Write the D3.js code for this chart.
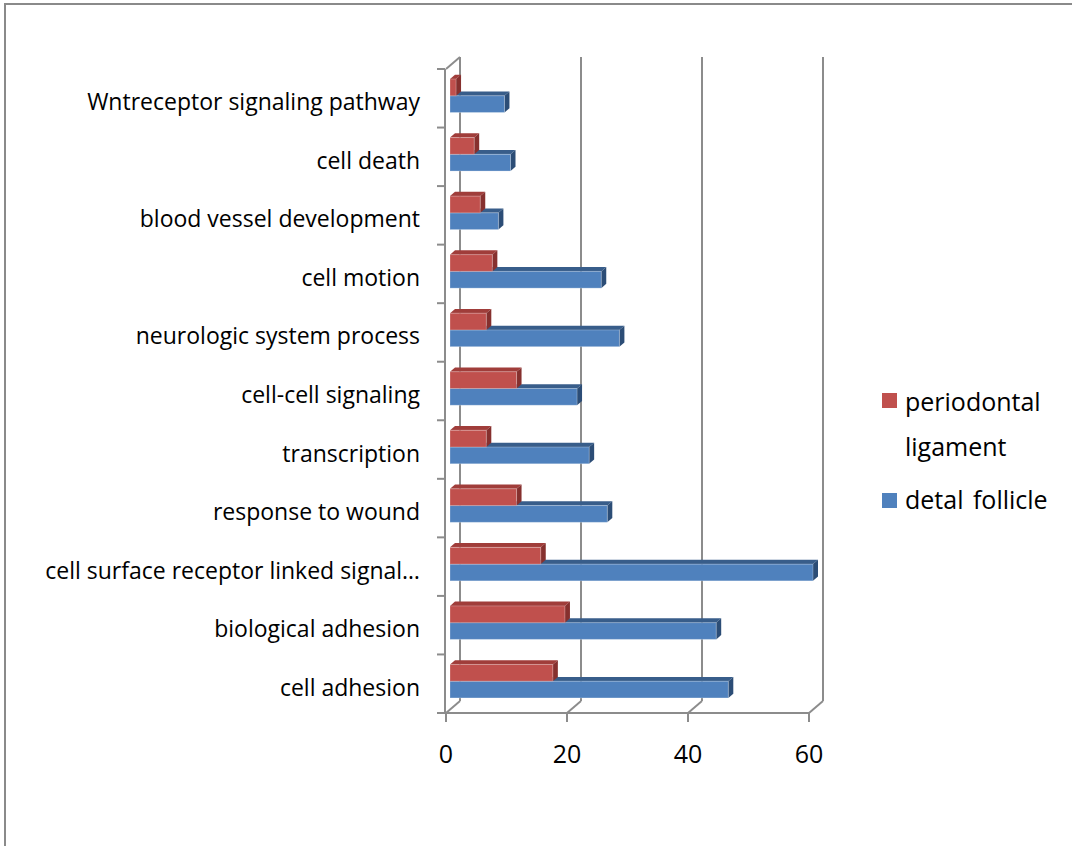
<!DOCTYPE html>
<html>
<head>
<meta charset="utf-8">
<script src="https://cdn.jsdelivr.net/npm/d3@7"></script>
<style>
  html, body { margin: 0; padding: 0; background: #fff; }
  svg { display: block; }
  text { font-family: "Open Sans", "Noto Sans", sans-serif; fill: #000; }
</style>
</head>
<body>
<svg id="chart" width="1072" height="846"></svg>
<script>
// Gene ontology categories, listed top to bottom
const categories = [
  "Wntreceptor signaling pathway",
  "cell death",
  "blood vessel development",
  "cell motion",
  "neurologic system process",
  "cell-cell signaling",
  "transcription",
  "response to wound",
  "cell surface receptor linked signal\u2026",
  "biological adhesion",
  "cell adhesion"
];
const seriesNames = ["periodontal ligament", "detal follicle"];
const periodontalLigament = [1, 4, 5, 7, 6, 11, 6, 11, 15, 19, 17];
const detalFollicle = [9, 10, 8, 25, 28, 21, 23, 26, 60, 44, 46];
const xTicks = [0, 20, 40, 60];

const seriesValues = [periodontalLigament, detalFollicle];
const palette = {
  "periodontal ligament": { front: "#c0504d", top: "#a03d3a", side: "#86302e" },
  "detal follicle":       { front: "#4f81bd", top: "#385d8a", side: "#2c4d76" }
};

const svg = d3.select("#chart");

// Outer frame of the chart area
svg.append("rect")
  .attr("x", 5).attr("y", 4).attr("width", 1100).attr("height", 900)
  .attr("fill", "none").attr("stroke", "#8a8a8a").attr("stroke-width", 2);

// Front plane scales and oblique depth offset
const x = d3.scaleLinear().domain([0, 60]).range([446, 809]);
const y = d3.scaleBand().domain(categories).range([69, 713]).paddingInner(0).paddingOuter(0);
const DX = 14, DY = -12;
const top0 = y.range()[0], bot0 = y.range()[1];

const grid = svg.append("g").attr("stroke", "#8c8c8c").attr("stroke-width", 2).attr("fill", "none");

// Back wall gridlines
xTicks.forEach(v => {
  grid.append("line")
    .attr("x1", x(v) + DX).attr("x2", x(v) + DX)
    .attr("y1", top0 + DY).attr("y2", bot0 + DY);
  // floor depth edges
  grid.append("line")
    .attr("x1", x(v)).attr("y1", bot0)
    .attr("x2", x(v) + DX).attr("y2", bot0 + DY);
  // value ticks below the floor
  grid.append("line")
    .attr("x1", x(v)).attr("x2", x(v))
    .attr("y1", bot0).attr("y2", bot0 + 9);
});

// Left wall top edge
grid.append("line")
  .attr("x1", x(0)).attr("y1", top0)
  .attr("x2", x(0) + DX).attr("y2", top0 + DY);

// Category axis line and floor front edge
grid.append("line")
  .attr("x1", x(0) - 1).attr("x2", x(0) - 1)
  .attr("y1", top0).attr("y2", bot0);
grid.append("line")
  .attr("x1", x(0) - 9).attr("x2", x(60))
  .attr("y1", bot0).attr("y2", bot0);

// Category boundary ticks
const boundaries = categories.map(c => y(c)).concat([bot0]);
boundaries.forEach(b => {
  grid.append("line")
    .attr("x1", x(0) - 9).attr("x2", x(0) - 1)
    .attr("y1", b).attr("y2", b);
});

// Series placement inside each category band
const inner = d3.scaleBand().domain(seriesNames).range([10, 43.5]);
const FDX = 4, BDX = 5, BDY = -4.3;

const bars = svg.append("g");
// Draw the lower series first so the upper bars sit over its top face
[1, 0].forEach(si => {
  const name = seriesNames[si];
  const col = palette[name];
  categories.forEach((c, ci) => {
    const v = seriesValues[si][ci];
    const x0 = x(0) + FDX;
    const x1 = x0 + (x(v) - x(0));
    const y0 = y(c) + inner(name);
    const y1 = y0 + inner.bandwidth();
    const g = bars.append("g");
    // top face
    g.append("path")
      .attr("d", `M${x0},${y0} L${x0 + BDX},${y0 + BDY} L${x1 + BDX},${y0 + BDY} L${x1},${y0} Z`)
      .attr("fill", col.top);
    // side face
    g.append("path")
      .attr("d", `M${x1},${y0} L${x1 + BDX},${y0 + BDY} L${x1 + BDX},${y1 + BDY} L${x1},${y1} Z`)
      .attr("fill", col.side);
    // front face
    g.append("rect")
      .attr("x", x0).attr("y", y0)
      .attr("width", x1 - x0).attr("height", y1 - y0)
      .attr("fill", col.front)
      .attr("stroke", "rgba(255,255,255,0.25)").attr("stroke-width", 1);
  });
});

// Category labels
svg.append("g").selectAll("text")
  .data(categories).join("text")
  .attr("x", 420)
  .attr("y", c => y(c) + y.bandwidth() / 2 + 12)
  .attr("text-anchor", "end")
  .attr("font-size", 23)
  .text(c => c);

// Value tick labels
svg.append("g").selectAll("text")
  .data(xTicks).join("text")
  .attr("x", v => x(v))
  .attr("y", 763)
  .attr("text-anchor", "middle")
  .attr("font-size", 25)
  .text(v => v);

// Legend
const legend = svg.append("g");
legend.append("rect").attr("x", 882).attr("y", 393).attr("width", 15).attr("height", 15)
  .attr("fill", palette["periodontal ligament"].front);
legend.append("text").attr("x", 905).attr("y", 411).attr("font-size", 25).text("periodontal");
legend.append("text").attr("x", 905).attr("y", 456).attr("font-size", 25).text("ligament");
legend.append("rect").attr("x", 882).attr("y", 493).attr("width", 15).attr("height", 15)
  .attr("fill", palette["detal follicle"].front);
legend.append("text").attr("x", 905).attr("y", 509).attr("font-size", 25).attr("word-spacing", 3).text("detal follicle");
</script>
</body>
</html>
